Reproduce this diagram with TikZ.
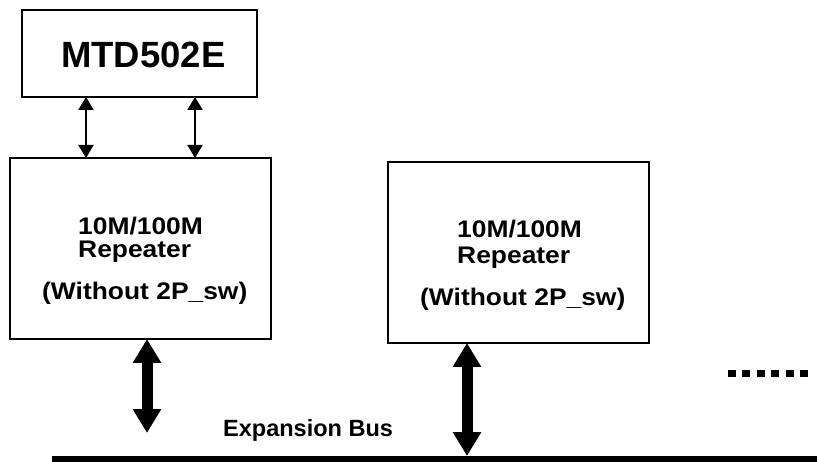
\documentclass[tikz,border=0pt]{standalone}
\usepackage{fontspec}
\setmainfont{Liberation Sans}
\newfontfamily\widefont[FakeStretch=1.1]{Liberation Sans}
\usetikzlibrary{arrows.meta}
\begin{document}
\begin{tikzpicture}[x=1pt,y=-1pt,
  box/.style={draw=black,line width=2pt,minimum width=#1,inner sep=0pt,outer sep=0pt},
  lbl/.style={anchor=base west,inner sep=0pt,font=\widefont\bfseries\fontsize{24}{24}\selectfont},
  thin/.style={line width=2pt,{Triangle[length=13pt,width=15pt]}-{Triangle[length=13pt,width=15pt]}},
  thick/.style={line width=11pt,{Triangle[length=24pt,width=27pt]}-{Triangle[length=24pt,width=27pt]}}]
\useasboundingbox (0,0) rectangle (817,462);
% boxes
\node[box=235pt,minimum height=87pt] (mtd) at (139.5,53.5) {};
\node[box=261pt,minimum height=181pt] (rep1) at (140.5,248.5) {};
\node[box=261pt,minimum height=181pt] (rep2) at (518.5,252.5) {};
% texts
\node[anchor=base west,inner sep=0pt,font=\bfseries\fontsize{36.5}{36.5}\selectfont] (t0) at (61,68) {MTD502E};
\node[lbl] (t1a) at (78,235) {10M/100M};
\node[lbl] (t1b) at (78,258) {Repeater};
\node[lbl] (t1c) at (42,300) {(Without 2P\_sw)};
\node[lbl] (t2a) at (457,238) {10M/100M};
\node[lbl] (t2b) at (457,264) {Repeater};
\node[lbl] (t2c) at (420,306) {(Without 2P\_sw)};
\node[anchor=base west,inner sep=0pt,font=\bfseries\fontsize{23.5}{23.5}\selectfont] (tb) at (223,436) {Expansion Bus};
% bus
\coordinate (busL) at (52,459);
\coordinate (busR) at (817,459);
\draw[line width=6pt] (busL) -- (busR);
% small arrows
\coordinate (xa) at (86,0);
\coordinate (xb) at (195,0);
\draw[thin] (mtd.south -| xa) -- (rep1.north -| xa);
\draw[thin] (mtd.south -| xb) -- (rep1.north -| xb);
% thick arrows
\coordinate (e1) at (147,433);
\coordinate (e2) at (467,456);
\draw[thick] (rep1.south -| e1) -- (e1);
\draw[thick] (rep2.south -| e2) -- (e2);
% dots
\coordinate (d1) at (728,373.5);
\coordinate (d2) at (808,373.5);
\draw[line width=7.5pt,dash pattern=on 8pt off 6.4pt] (d1) -- (d2);
\end{tikzpicture}
\end{document}
